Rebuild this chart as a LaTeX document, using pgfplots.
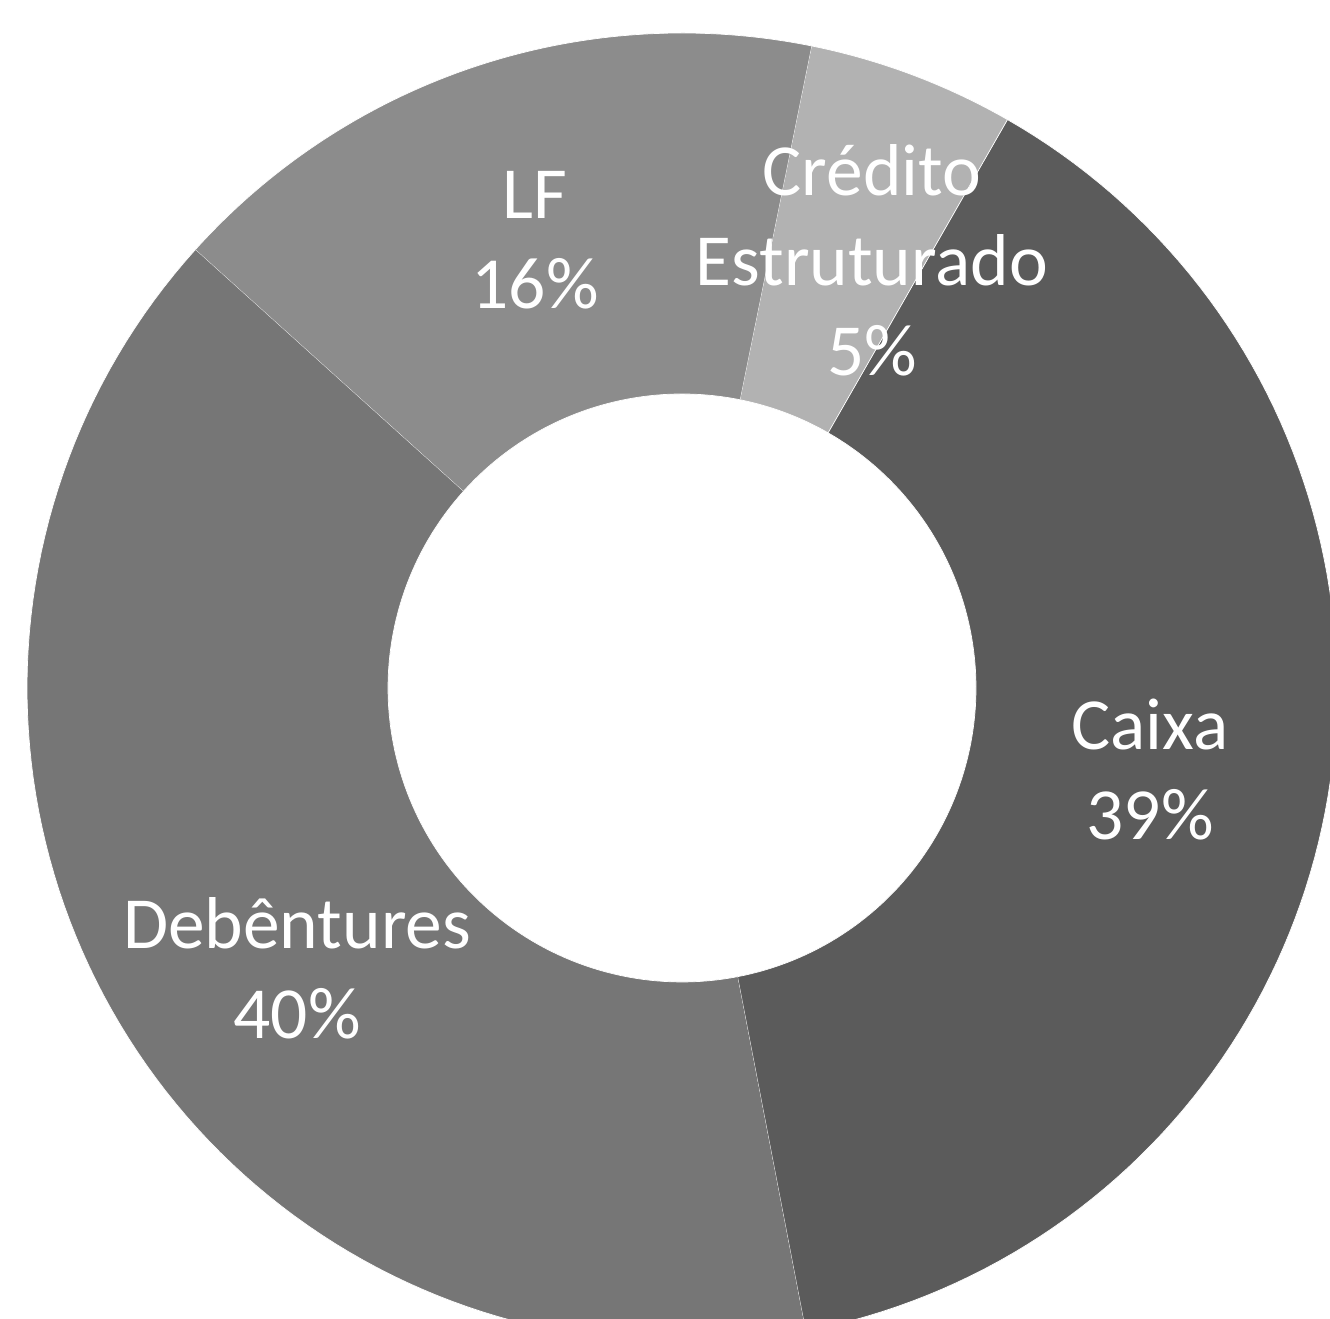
\documentclass[border=0pt]{standalone}
\usepackage{pgfplots}
\pgfplotsset{compat=1.18}
\usepackage{fontspec}
\setmainfont{Carlito}
\definecolor{cCaixa}{HTML}{5B5B5B}
\definecolor{cDeb}{HTML}{767676}
\definecolor{cLF}{HTML}{8C8C8C}
\definecolor{cCred}{HTML}{B2B2B2}
% slice: color, cumulative percent before slice, slice percent
\newcommand{\ringslice}[3]{%
  \addplot[fill=#1, draw=white, line width=0.2pt, samples at={0,1,...,201}, variable=\t]
  ({((\t<=100)*655 + (\t>100)*294)*cos(60.2 - 3.6*#2 - 3.6*#3*min(\t,201-\t)/100)},
   {((\t<=100)*655 + (\t>100)*294)*sin(60.2 - 3.6*#2 - 3.6*#3*min(\t,201-\t)/100)});
}
\begin{document}
\begin{tikzpicture}
\begin{axis}[
  x=0.1mm, y=0.1mm,
  xmin=-682, xmax=648, ymin=-631, ymax=688,
  hide axis, clip=true,
]
% values (percent): Caixa 38.7, Debentures 39.7, LF 16.5, Credito Estruturado 5.1
\ringslice{cCaixa}{0}{38.7}
\ringslice{cDeb}{38.7}{39.7}
\ringslice{cLF}{78.4}{16.5}
\ringslice{cCred}{94.9}{5.1}
\begin{scope}[every node/.style={text=white, align=center, font=\fontsize{20.9}{25.6}\selectfont}]
\node at (axis cs:-147,448) {LF\\16\%};
\node at (axis cs:190,428) {Crédito\\Estruturado\\5\%};
\node at (axis cs:468,-82) {Caixa\\39\%};
\node at (axis cs:-385,-280) {Debêntures\\40\%};
\end{scope}
\coordinate (SW) at (axis cs:-682,-631);
\coordinate (NE) at (axis cs:648,688);
\end{axis}
\pgfresetboundingbox
\path[use as bounding box] (SW) rectangle (NE);
\end{tikzpicture}
\end{document}
